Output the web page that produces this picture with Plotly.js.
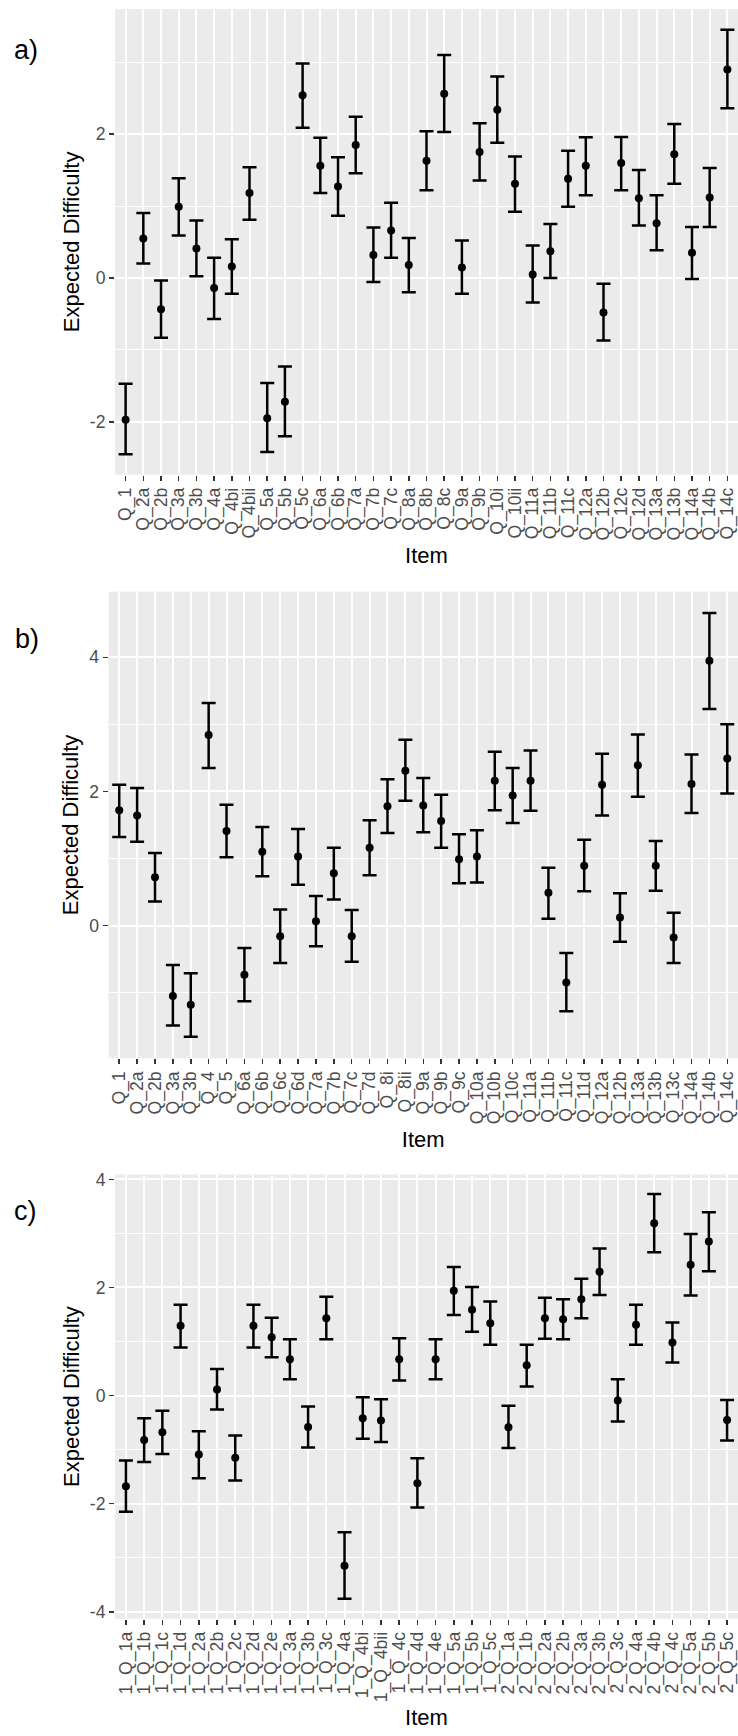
<!DOCTYPE html>
<html>
<head>
<meta charset="utf-8">
<script src="https://cdn.plot.ly/plotly-3.0.1.min.js"></script>
<style>html,body{margin:0;padding:0;background:#fff;}#chart{width:738px;height:1736px;}</style>
</head>
<body>
<div id="chart"></div>
<script>
// ---------- Panel a ----------
const aItems = ["Q_1","Q_2a","Q_2b","Q_3a","Q_3b","Q_4a","Q_4bi","Q_4bii","Q_5a","Q_5b","Q_5c","Q_6a","Q_6b","Q_7a","Q_7b","Q_7c","Q_8a","Q_8b","Q_8c","Q_9a","Q_9b","Q_10i","Q_10ii","Q_11a","Q_11b","Q_11c","Q_12a","Q_12b","Q_12c","Q_12d","Q_13a","Q_13b","Q_14a","Q_14b","Q_14c"];
const aEst   = [-1.97,0.55,-0.435,0.99,0.41,-0.14,0.16,1.18,-1.95,-1.72,2.54,1.56,1.27,1.85,0.32,0.66,0.18,1.63,2.56,0.147,1.75,2.34,1.31,0.05,0.37,1.38,1.56,-0.48,1.60,1.11,0.76,1.72,0.35,1.12,2.90];
const aUpper = [-1.47,0.905,-0.035,1.385,0.80,0.28,0.54,1.54,-1.46,-1.23,2.98,1.95,1.68,2.24,0.70,1.045,0.555,2.04,3.10,0.52,2.15,2.80,1.69,0.45,0.75,1.77,1.955,-0.08,1.96,1.50,1.15,2.14,0.71,1.53,3.45];
const aLower = [-2.45,0.20,-0.83,0.59,0.025,-0.57,-0.22,0.81,-2.42,-2.20,2.09,1.18,0.865,1.455,-0.055,0.28,-0.20,1.22,2.03,-0.22,1.355,1.88,0.92,-0.34,0.0,0.99,1.15,-0.87,1.22,0.73,0.385,1.31,-0.015,0.71,2.36];
const aTickVals = [-2,0,2];
const aTickText = ["-2","0","2"];

// ---------- Panel b ----------
const bItems = ["Q_1","Q_2a","Q_2b","Q_3a","Q_3b","Q_4","Q_5","Q_6a","Q_6b","Q_6c","Q_6d","Q_7a","Q_7b","Q_7c","Q_7d","Q_8i","Q_8ii","Q_9a","Q_9b","Q_9c","Q_10a","Q_10b","Q_10c","Q_11a","Q_11b","Q_11c","Q_11d","Q_12a","Q_12b","Q_13a","Q_13b","Q_13c","Q_14a","Q_14b","Q_14c"];
const bEst   = [1.72,1.64,0.72,-1.05,-1.18,2.84,1.41,-0.735,1.10,-0.16,1.03,0.065,0.78,-0.16,1.16,1.78,2.31,1.79,1.56,0.99,1.03,2.16,1.94,2.16,0.49,-0.85,0.89,2.10,0.12,2.39,0.89,-0.18,2.11,3.95,2.49];
const bUpper = [2.10,2.05,1.08,-0.59,-0.71,3.32,1.80,-0.335,1.47,0.24,1.44,0.44,1.16,0.23,1.57,2.18,2.77,2.20,1.95,1.36,1.42,2.59,2.35,2.61,0.86,-0.41,1.28,2.56,0.48,2.85,1.26,0.19,2.55,4.66,3.00];
const bLower = [1.32,1.25,0.36,-1.49,-1.66,2.35,1.02,-1.13,0.735,-0.557,0.61,-0.31,0.39,-0.54,0.75,1.38,1.86,1.39,1.16,0.63,0.64,1.72,1.53,1.71,0.10,-1.28,0.51,1.64,-0.24,1.92,0.52,-0.56,1.68,3.23,1.97];
const bTickVals = [0,2,4];
const bTickText = ["0","2","4"];

// ---------- Panel c ----------
const cItems = ["1_Q_1a","1_Q_1b","1_Q_1c","1_Q_1d","1_Q_2a","1_Q_2b","1_Q_2c","1_Q_2d","1_Q_2e","1_Q_3a","1_Q_3b","1_Q_3c","1_Q_4a","1_Q_4bi","1_Q_4bii","1_Q_4c","1_Q_4d","1_Q_4e","1_Q_5a","1_Q_5b","1_Q_5c","2_Q_1a","2_Q_1b","2_Q_2a","2_Q_2b","2_Q_3a","2_Q_3b","2_Q_3c","2_Q_4a","2_Q_4b","2_Q_4c","2_Q_5a","2_Q_5b","2_Q_5c"];
const cEst   = [-1.68,-0.82,-0.68,1.29,-1.09,0.11,-1.15,1.29,1.08,0.67,-0.58,1.43,-3.15,-0.42,-0.46,0.67,-1.62,0.67,1.94,1.59,1.34,-0.585,0.56,1.43,1.41,1.78,2.29,-0.09,1.31,3.19,0.98,2.42,2.85,-0.45];
const cUpper = [-1.20,-0.42,-0.28,1.68,-0.66,0.49,-0.74,1.68,1.44,1.04,-0.20,1.83,-2.53,-0.03,-0.07,1.06,-1.16,1.04,2.38,2.01,1.74,-0.19,0.94,1.81,1.78,2.16,2.72,0.30,1.68,3.73,1.35,2.99,3.39,-0.08];
const cLower = [-2.15,-1.23,-1.08,0.89,-1.53,-0.26,-1.57,0.89,0.71,0.30,-0.96,1.04,-3.76,-0.80,-0.86,0.28,-2.07,0.30,1.49,1.18,0.94,-0.97,0.17,1.05,1.04,1.43,1.86,-0.48,0.94,2.65,0.61,1.85,2.30,-0.83];
const cTickVals = [-4,-2,0,2,4];
const cTickText = ["-4","-2","0","2","4"];

const panelLabels = ["a)","b)","c)"];
const xTitle = "Item";
const yTitle = "Expected Difficulty";

// ---------- build ----------
const FONT = "Liberation Sans, Arial, sans-serif";
function trace(items, est, up, lo, n) {
  return {
    type: "scatter", mode: "markers",
    x: items, y: est,
    xaxis: "x" + (n === 1 ? "" : n), yaxis: "y" + (n === 1 ? "" : n),
    marker: {color: "black", size: 8},
    error_y: {
      type: "data", symmetric: false,
      array: up.map((u, i) => u - est[i]),
      arrayminus: lo.map((l, i) => est[i] - l),
      color: "black", thickness: 2.5, width: 7
    },
    hoverinfo: "x+y"
  };
}
function xAxis(items, dom, anchor) {
  return {
    domain: dom, anchor: anchor, type: "category",
    categoryorder: "array", categoryarray: items,
    range: [-0.6, items.length - 0.4],
    tickmode: "linear", tick0: 0, dtick: 1,
    tickangle: -90, ticks: "outside", ticklen: 5, tickwidth: 1.5, tickcolor: "#333333",
    tickfont: {family: FONT, size: 17.6, color: "#4D4D4D"},
    showgrid: true, gridcolor: "#FFFFFF", gridwidth: 2,
    zeroline: false, showline: false, automargin: false,
    title: {text: xTitle, font: {family: FONT, size: 22, color: "#000000"}, standoff: 8}
  };
}
function yAxis(range, tv, tt, dom, anchor) {
  return {
    domain: dom, anchor: anchor, range: range,
    tickmode: "array", tickvals: tv, ticktext: tt,
    ticks: "outside", ticklen: 5, tickwidth: 1.5, tickcolor: "#333333",
    tickfont: {family: FONT, size: 17.6, color: "#4D4D4D"},
    showgrid: true, gridcolor: "#FFFFFF", gridwidth: 2,
    minor: {tickmode: "linear", tick0: 1, dtick: 2, showgrid: true, gridcolor: "#FFFFFF", gridwidth: 1, ticks: ""},
    zeroline: false, showline: false, automargin: false,
    title: {text: yTitle, font: {family: FONT, size: 22, color: "#000000"}, standoff: 4}
  };
}
const H = 1736, W = 738;
const dA = [1 - 474.7 / H, 1 - 9.1 / H];
const dB = [1 - 1058.3 / H, 1 - 591.6 / H];
const dC = [1 - 1618.8 / H, 1 - 1174.5 / H];

const data = [
  trace(aItems, aEst, aUpper, aLower, 1),
  trace(bItems, bEst, bUpper, bLower, 2),
  trace(cItems, cEst, cUpper, cLower, 3)
];
const layout = {
  width: W, height: H,
  margin: {l: 0, r: 0, t: 0, b: 0, pad: 0},
  paper_bgcolor: "#FFFFFF", plot_bgcolor: "#EBEBEB",
  showlegend: false,
  font: {family: FONT},
  xaxis:  xAxis(aItems, [115 / W, 1], "y"),
  yaxis:  yAxis([-2.735, 3.738], aTickVals, aTickText, dA, "x"),
  xaxis2: xAxis(bItems, [108.5 / W, 1], "y2"),
  yaxis2: yAxis([-1.98, 4.98], bTickVals, bTickText, dB, "x2"),
  xaxis3: xAxis(cItems, [115 / W, 1], "y3"),
  yaxis3: yAxis([-4.13, 4.09], cTickVals, cTickText, dC, "x3"),
  annotations: [
    {text: panelLabels[0], xref: "paper", yref: "paper", x: 26 / W, y: 1 - 49.6 / H, xanchor: "center", yanchor: "middle", showarrow: false, font: {family: FONT, size: 27, color: "#000"}},
    {text: panelLabels[1], xref: "paper", yref: "paper", x: 26.7 / W, y: 1 - 638.7 / H, xanchor: "center", yanchor: "middle", showarrow: false, font: {family: FONT, size: 27, color: "#000"}},
    {text: panelLabels[2], xref: "paper", yref: "paper", x: 25.8 / W, y: 1 - 1210.7 / H, xanchor: "center", yanchor: "middle", showarrow: false, font: {family: FONT, size: 27, color: "#000"}}
  ]
};
Plotly.newPlot("chart", data, layout, {staticPlot: true, displayModeBar: false});
</script>
</body>
</html>
